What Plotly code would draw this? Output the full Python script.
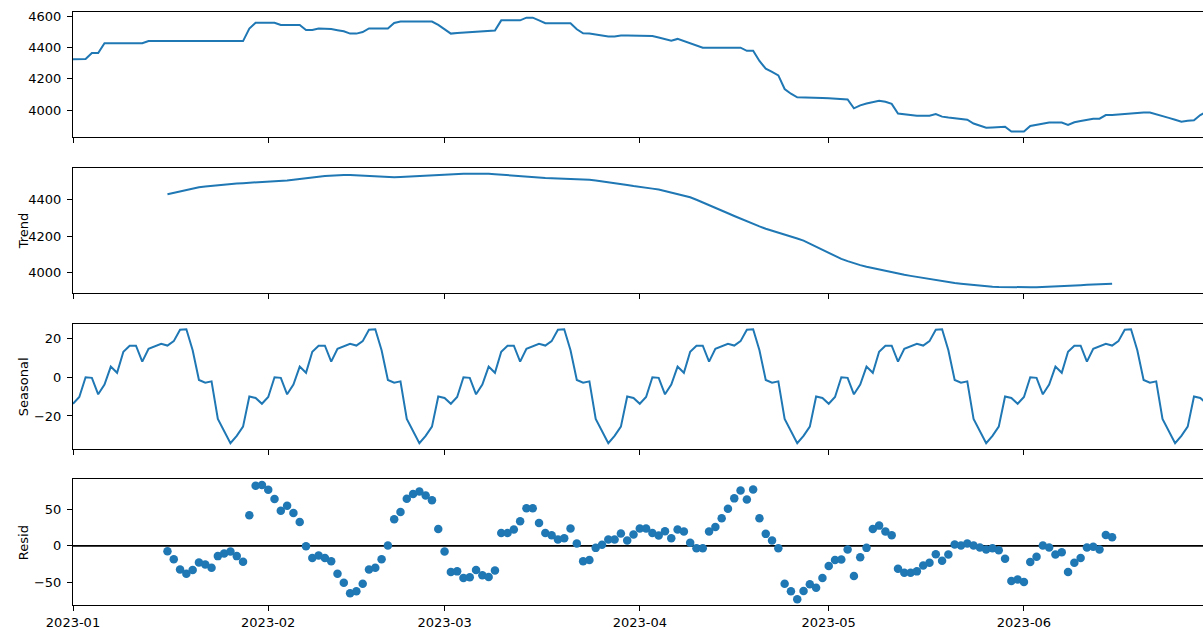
import pandas as pd
import plotly.graph_objects as go
from plotly.subplots import make_subplots

# Daily series 2023-01-01 .. 2023-06-30 and its additive decomposition (period 30)
START_DATE = "2023-01-01"
N_DAYS = 181
TREND_OFFSET = 15  # centred moving average leaves 15 empty days at each end

observed = (
    [4325, 4325, 4327, 4365, 4365]
    + [4428] * 7
    + [4442] * 16
    + [4522]
    + [4560] * 4
    + [4545] * 4
    + [4513, 4513, 4523, 4523, 4519, 4512, 4505, 4490, 4490, 4500]
    + [4523] * 4
    + [4558]
    + [4567] * 6
    + [4546, 4516, 4490, 4494, 4496, 4498, 4500, 4502, 4505, 4510]
    + [4575] * 4
    + [4592, 4592, 4575]
    + [4557] * 5
    + [4518, 4492, 4490, 4485, 4478, 4472, 4472, 4478, 4478, 4478,
       4477, 4476, 4474, 4465, 4455, 4445, 4456, 4443, 4428, 4413]
    + [4400] * 7
    + [4380, 4380, 4315, 4265, 4245, 4222, 4135, 4105]
    + [4082] * 3
    + [4080, 4078, 4076, 4074, 4072, 4068, 4011, 4030, 4042, 4052, 4060, 4053, 4040,
       3978, 3972, 3967, 3964, 3964, 3964, 3974, 3958, 3952, 3946, 3940, 3938,
       3914, 3898, 3887, 3889, 3890, 3893, 3862, 3862, 3862,
       3898, 3905, 3912, 3920, 3920, 3920, 3905, 3922, 3930, 3938, 3945, 3945,
       3968, 3969, 3970, 3975, 3978, 3982, 3985, 3984,
       3974, 3962, 3950, 3938, 3926, 3932, 3935, 3968, 3990]
)

trend = [
    4429, 4437, 4445, 4454, 4462, 4467, 4472, 4476, 4480, 4483,
    4486, 4488, 4490, 4492, 4494, 4495, 4497, 4499, 4502, 4505,
    4509, 4514, 4518, 4521, 4525, 4529, 4532, 4535, 4535, 4534,
    4532, 4530, 4528, 4526, 4525, 4524, 4523, 4524, 4526, 4528,
    4530, 4533, 4535, 4537, 4538, 4539, 4540, 4541, 4542, 4543,
    4542, 4541, 4539, 4536, 4533, 4530, 4528, 4524, 4521, 4519,
    4518, 4517, 4516, 4515, 4514, 4512, 4510, 4508, 4504, 4500,
    4495, 4491, 4486, 4480, 4474, 4468, 4464, 4460, 4455, 4447,
    4439, 4430, 4422, 4413, 4399, 4385, 4370, 4355, 4340, 4325,
    4310, 4295, 4280, 4267, 4253, 4240, 4230, 4220, 4210, 4198,
    4187, 4175, 4158, 4140, 4123, 4106, 4090, 4075, 4063, 4051,
    4041, 4032, 4024, 4017, 4009, 4002, 3995, 3988, 3982, 3976,
    3970, 3965, 3959, 3953, 3947, 3943, 3939, 3935, 3931, 3927,
    3924, 3922, 3921, 3920, 3919, 3919, 3919, 3920, 3920, 3921,
    3922, 3924, 3926, 3928, 3929, 3931, 3933, 3934, 3936, 3938,
    3939,
]

# One 30-day seasonal cycle; the seasonal component repeats it
seasonal_cycle = [
    -13.7, -10.2, 0.0, -0.3, -8.8, -3.8, 5.5, 2.3, 13.2, 16.3,
    16.3, 8.1, 14.7, 16.1, 17.3, 16.4, 18.7, 24.6, 24.8, 14.0,
    -1.4, -2.8, -2.1, -21.5, -27.5, -34.1, -30.3, -25.5, -9.9, -10.7,
]

resid = [
    -7.2, -18.0, -31.9, -37.8, -32.8, -22.5, -25.2, -29.7, -13.9, -10.3,
    -7.6, -13.9, -21.6, 41.5, 81.6, 82.5, 76.2, 63.6, 47.8, 54.6,
    44.6, 32.5, -0.4, -16.6, -13.0, -16.6, -20.7, -37.8, -50.0, -64.4,
    -61.7, -51.3, -31.9, -29.7, -18.0, 0.5, 36.1, 46.0, 64.0, 70.3,
    73.9, 68.5, 61.8, 23.0, -7.6, -35.5, -34.6, -43.6, -42.7, -32.8,
    -40.0, -42.3, -33.3, 17.6, 17.6, 22.1, 33.4, 51.0, 51.0, 31.1,
    17.6, 14.5, 8.6, 10.4, 23.5, 3.2, -20.7, -19.3, -2.7, 1.4,
    8.6, 8.6, 16.7, 7.3, 15.4, 23.5, 23.5, 17.6, 14.0, 19.9,
    10.4, 22.1, 19.4, 4.1, -3.1, -3.1, 19.4, 25.7, 37.4, 50.5,
    64.5, 75.3, 63.1, 76.6, 37.4, 16.3, 7.3, -3.1, -51.3, -61.7,
    -72.5, -61.2, -52.2, -56.7, -43.6, -27.4, -19.3, -18.4, -4.9, -40.9,
    -15.3, -2.7, 23.0, 27.5, 19.4, 14.5, -31.0, -36.4, -36.4, -34.6,
    -26.5, -22.9, -11.2, -20.2, -11.7, 1.9, 0.5, 3.2, 0.5, -2.2,
    -4.9, -3.1, -5.8, -17.5, -47.7, -45.5, -49.1, -22.0, -14.8, 0.5,
    -2.2, -11.7, -8.5, -35.5, -22.9, -16.6, -2.2, -1.3, -4.9, 14.9,
    11.8,
]

assert len(observed) == N_DAYS
assert len(trend) == len(resid) == N_DAYS - 2 * TREND_OFFSET

dates = pd.date_range(START_DATE, periods=N_DAYS, freq="D")
seasonal = (seasonal_cycle * (N_DAYS // len(seasonal_cycle) + 1))[:N_DAYS]
mid_dates = dates[TREND_OFFSET:TREND_OFFSET + len(trend)]

BLUE = "#1f77b4"
FONT = "DejaVu Sans"

fig = make_subplots(rows=4, cols=1, shared_xaxes=True)

fig.add_trace(go.Scatter(x=dates, y=observed, mode="lines",
                         line=dict(color=BLUE, width=2)), row=1, col=1)
fig.add_trace(go.Scatter(x=mid_dates, y=trend, mode="lines",
                         line=dict(color=BLUE, width=2)), row=2, col=1)
fig.add_trace(go.Scatter(x=dates, y=seasonal, mode="lines",
                         line=dict(color=BLUE, width=2)), row=3, col=1)
fig.add_trace(go.Scatter(x=mid_dates, y=resid, mode="markers",
                         marker=dict(color=BLUE, size=8.5, line=dict(width=0))),
              row=4, col=1)

# zero reference line behind the residual dots
fig.add_shape(type="line", xref="x4 domain", x0=0, x1=1, yref="y4", y0=0, y1=0,
              line=dict(color="black", width=1.6), layer="below")


def padded(vals):
    lo, hi = min(vals), max(vals)
    pad = 0.05 * (hi - lo)
    return [lo - pad, hi + pad]


domains = [[0.7887, 1.0], [0.526, 0.7373], [0.2632, 0.4745], [0.0, 0.2118]]
ranges = [padded(observed), padded(trend), padded(seasonal), padded(resid)]
tickvals = [[4000, 4200, 4400, 4600], [4000, 4200, 4400], [-20, 0, 20], [-50, 0, 50]]

x_end = dates[0] + pd.Timedelta(hours=179.43 * 24)

for k in range(4):
    fig.update_yaxes(
        row=k + 1, col=1, domain=domains[k], range=ranges[k], automargin=False,
        tickmode="array", tickvals=tickvals[k],
        ticks="outside", ticklen=5, tickwidth=1, tickcolor="black",
        showline=True, linecolor="black", linewidth=1, mirror=False,
        showgrid=False, zeroline=False, ticklabelstandoff=3,
        tickfont=dict(family=FONT, size=13, color="black"),
    )
    fig.update_xaxes(
        row=k + 1, col=1, range=[dates[0], x_end], automargin=False,
        tickformat="%Y-%m", dtick="M1", tick0=START_DATE,
        ticks="outside", ticklen=5, tickwidth=1, tickcolor="black",
        showline=True, linecolor="black", linewidth=1, mirror=True,
        showgrid=False, zeroline=False, showticklabels=(k == 3),
        tickfont=dict(family=FONT, size=13, color="black"),
    )

for k, label in [(2, "Trend"), (3, "Seasonal"), (4, "Resid")]:
    fig.add_annotation(text=label, textangle=-90, xref="paper", x=-0.0443,
                       yref=f"y{k} domain", y=0.5, showarrow=False,
                       xanchor="center", yanchor="middle",
                       font=dict(family=FONT, size=13, color="black"))

fig.update_layout(
    width=1203, height=628,
    margin=dict(l=73, r=0, t=12, b=23, autoexpand=False),
    paper_bgcolor="white", plot_bgcolor="white",
    showlegend=False,
    font=dict(family=FONT, size=13, color="black"),
)

fig.write_html("out.html", config={"displayModeBar": False})
